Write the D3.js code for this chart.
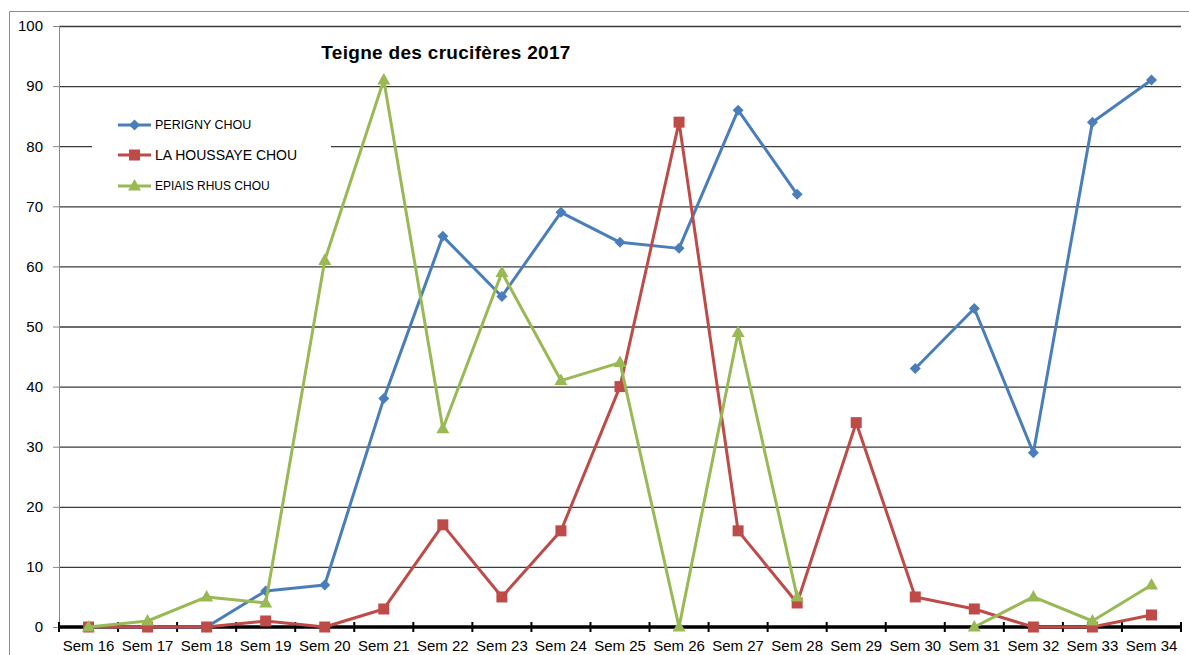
<!DOCTYPE html>
<html>
<head>
<meta charset="utf-8">
<script src="https://cdn.jsdelivr.net/npm/d3@7"></script>
<style>
  body { margin: 0; background: #fff; }
  text { font-family: "Liberation Sans", Arial, sans-serif; fill: #000; }
</style>
</head>
<body>
<script>
// chart data
var weeks = ["Sem 16", "Sem 17", "Sem 18", "Sem 19", "Sem 20", "Sem 21", "Sem 22", "Sem 23", "Sem 24", "Sem 25",
             "Sem 26", "Sem 27", "Sem 28", "Sem 29", "Sem 30", "Sem 31", "Sem 32", "Sem 33", "Sem 34"];
var perigny  = [0, 0, 0, 6, 7, 38, 65, 55, 69, 64, 63, 86, 72, null, 43, 53, 29, 84, 91];
var houssaye = [0, 0, 0, 1, 0, 3, 17, 5, 16, 40, 84, 16, 4, 34, 5, 3, 0, 0, 2];
var epiais   = [0, 1, 5, 4, 61, 91, 33, 59, 41, 44, 0, 49, 5, null, null, 0, 5, 1, 7];
var yTicks = [0, 10, 20, 30, 40, 50, 60, 70, 80, 90, 100];
var seriesNames = ["PERIGNY CHOU", "LA HOUSSAYE CHOU", "EPIAIS RHUS CHOU"];

var width = 1189,
    height = 655;

var svg = d3.select("body").append("svg")
    .attr("width", width)
    .attr("height", height);

// outer frame (top and left edges visible)
svg.append("path")
    .attr("d", "M9.5,655 V11.5 H1189")
    .attr("fill", "none")
    .attr("stroke", "#8c8c8c");

var x = d3.scaleBand().domain(weeks).range([59, 1181]).padding(0);
var y = d3.scaleLinear().domain([0, 100]).range([627, 26]);
var cx = function(i) { return x(weeks[i]) + x.bandwidth() / 2; };

// gridlines
svg.append("g")
    .attr("transform", "translate(59,0)")
    .call(d3.axisLeft(y).tickValues(yTicks.slice(1)).tickSize(-(1181 - 59)).tickFormat(""))
    .call(function(g) {
      g.select(".domain").remove();
      g.selectAll("line").attr("stroke", "#3a3a3a").attr("stroke-width", 1.3);
    });

// y axis
svg.append("g")
    .attr("transform", "translate(59,0)")
    .call(d3.axisLeft(y).tickValues(yTicks).tickSize(6).tickPadding(10))
    .call(function(g) {
      g.select(".domain").attr("stroke", "#888").attr("d", "M0.5,26V627");
      g.selectAll("line").attr("stroke", "#888");
      g.selectAll("text").style("font-size", "15px");
    });

// x axis: labels under band centers, ticks at band edges
svg.append("g")
    .attr("transform", "translate(0,627)")
    .call(d3.axisBottom(x).tickSize(0).tickPadding(13))
    .call(function(g) {
      g.select(".domain").remove();
      g.selectAll("text").style("font-size", "15px");
    });

var edges = weeks.map(function(w) { return x(w); }).concat([x.range()[1]]);
svg.append("g").selectAll("line.tick")
    .data(edges)
  .enter().append("line")
    .attr("x1", function(d) { return d; })
    .attr("x2", function(d) { return d; })
    .attr("y1", y(0) - 5)
    .attr("y2", y(0) + 5)
    .attr("stroke", "#000")
    .attr("stroke-width", 2);
svg.append("line")
    .attr("x1", 59).attr("x2", 1181)
    .attr("y1", y(0)).attr("y2", y(0))
    .attr("stroke", "#000")
    .attr("stroke-width", 3.5);

// title
svg.append("text")
    .attr("x", 446)
    .attr("y", 59)
    .attr("text-anchor", "middle")
    .style("font-size", "19px")
    .style("font-weight", "bold")
    .style("letter-spacing", "0.3px")
    .text("Teigne des crucifères 2017");

// series
var colors = ["#4a7ebb", "#be4b48", "#98b954"];
var series = [perigny, houssaye, epiais];

function marker(sel, k) {
  if (k === 0) {
    sel.append("path").attr("d", "M0,-5.5L5.5,0L0,5.5L-5.5,0Z");
  } else if (k === 1) {
    sel.append("rect").attr("x", -5.5).attr("y", -5.5).attr("width", 11).attr("height", 11);
  } else {
    sel.append("path").attr("d", "M0,-7L6.5,4.5L-6.5,4.5Z");
  }
}

var line = d3.line()
    .defined(function(d) { return d != null; })
    .x(function(d, i) { return cx(i); })
    .y(function(d) { return y(d); });

series.forEach(function(vals, k) {
  var g = svg.append("g").attr("class", "series");
  g.append("path")
      .datum(vals)
      .attr("fill", "none")
      .attr("stroke", colors[k])
      .attr("stroke-width", 3)
      .attr("stroke-linejoin", "round")
      .attr("d", line);
  vals.forEach(function(v, i) {
    if (v == null) return;
    var m = g.append("g")
        .attr("transform", "translate(" + cx(i) + "," + y(v) + ")")
        .attr("fill", colors[k]);
    marker(m, k);
  });
});

// legend
var legend = svg.append("g");
legend.append("rect")
    .attr("x", 92).attr("y", 104)
    .attr("width", 239).attr("height", 96)
    .attr("fill", "#fff");
var legendY = [125, 155, 186],
    legendSize = [12.5, 14, 12];
seriesNames.forEach(function(name, k) {
  var row = legend.append("g").attr("transform", "translate(0," + legendY[k] + ")");
  row.append("line")
      .attr("x1", 118).attr("x2", 151)
      .attr("stroke", colors[k]).attr("stroke-width", 3);
  var m = row.append("g").attr("transform", "translate(134.5,0)").attr("fill", colors[k]);
  marker(m, k);
  row.append("text")
      .attr("x", 155)
      .attr("dy", "0.35em")
      .style("font-size", legendSize[k] + "px")
      .text(name);
});
</script>
</body>
</html>
